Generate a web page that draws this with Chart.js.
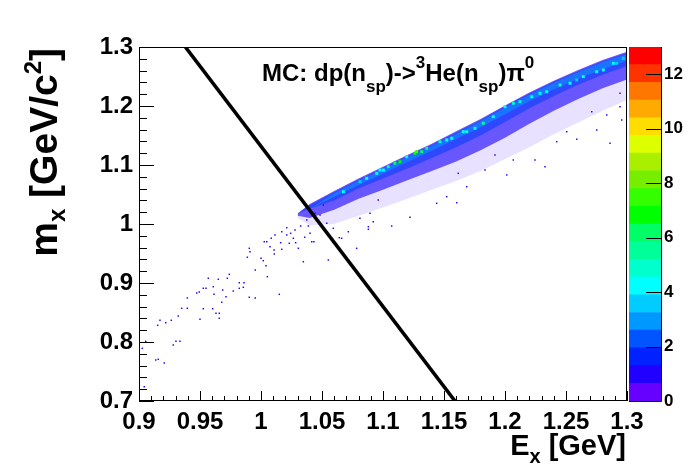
<!DOCTYPE html>
<html>
<head>
<meta charset="utf-8">
<script src="https://cdn.jsdelivr.net/npm/chart.js@4"></script>
<style>
  body { margin: 0; background: #fff; }
  #wrap { position: relative; width: 696px; height: 472px; }
  #main { position: absolute; left: 0; top: 0; }
  #cbar { position: absolute; left: 620px; top: 0; }
</style>
</head>
<body>
<div id="wrap">
  <canvas id="main" width="696" height="472"></canvas>
  <canvas id="cbar" width="76" height="472"></canvas>
</div>
<script>
// cut line drawn over the histogram
var lineE = [0.938, 1.159];
var lineM = [1.3, 0.7];

// outline of the dense band (E_x grid, m_x edges)
var bandE    = [1.03, 1.04, 1.06, 1.08, 1.10, 1.12, 1.14, 1.16, 1.18, 1.20, 1.22, 1.24, 1.26, 1.28, 1.30];
var bandTop  = [1.018, 1.034, 1.056, 1.077, 1.097, 1.117, 1.136, 1.157, 1.178, 1.201, 1.223, 1.243, 1.261, 1.278, 1.292];
var bandLow  = [1.014, 1.010, 1.024, 1.043, 1.058, 1.074, 1.090, 1.106, 1.125, 1.146, 1.170, 1.192, 1.212, 1.230, 1.245];
var haloLow  = [1.010, 0.998, 1.000, 1.014, 1.028, 1.043, 1.058, 1.073, 1.090, 1.110, 1.130, 1.152, 1.172, 1.192, 1.210];
var coreTop  = [1.018, 1.032, 1.054, 1.075, 1.095, 1.115, 1.134, 1.155, 1.176, 1.199, 1.221, 1.241, 1.259, 1.276, 1.290];
var coreLow  = [1.018, 1.026, 1.040, 1.060, 1.077, 1.094, 1.112, 1.130, 1.150, 1.173, 1.196, 1.217, 1.236, 1.253, 1.268];
var ridgeTop = [1.018, 1.026, 1.052, 1.073, 1.093, 1.113, 1.132, 1.153, 1.174, 1.197, 1.219, 1.239, 1.257, 1.274, 1.288];
var ridgeLow = [1.018, 1.026, 1.046, 1.066, 1.085, 1.105, 1.124, 1.144, 1.164, 1.186, 1.208, 1.228, 1.246, 1.262, 1.277];

// hot cells on the ridge
var hotE = [1.1262, 1.1276, 1.1098, 1.1139, 1.1043, 1.1358, 1.1467, 1.1522, 1.0975, 1.0866, 1.0675,
            1.1686, 1.1822, 1.2000, 1.2123, 1.2342, 1.2451, 1.2642, 1.2752, 1.2888, 1.2970,
            1.1003, 1.1194, 1.1317, 1.1563, 1.1658, 1.0948, 1.0811,
            1.1754, 1.1904, 1.2068, 1.2219, 1.2287, 1.2533, 1.2588, 1.2806, 1.2916];
var hotM = [1.1198, 1.1225, 1.1029, 1.1056, 1.0971, 1.1283, 1.1395, 1.1424, 1.0915, 1.0775, 1.0547,
            1.1564, 1.1707, 1.1988, 1.2073, 1.2242, 1.2356, 1.2497, 1.2581, 1.2724, 1.2808,
            1.0915, 1.1141, 1.1225, 1.1453, 1.1564, 1.0859, 1.0717,
            1.1622, 1.1819, 1.2046, 1.2157, 1.2215, 1.2385, 1.2441, 1.2610, 1.2724];
var hotV = [7, 7.5, 6, 6.5, 5.5, 6, 5, 4.5, 4.5, 4, 4,
            5, 5.5, 4.5, 5, 4.5, 5, 4, 4.5, 4, 3.5,
            4.5, 5, 6, 4.5, 4, 4, 3.5,
            4.5, 4, 5, 4, 4.5, 4, 3.5, 4, 3.5];

// single entries outside the band
var sparseE = [0.9055, 0.9027, 0.9043, 0.9137, 0.9158, 0.9207, 0.9153, 0.9172, 0.9219, 0.9265, 0.9281, 0.9303,
  0.9336, 0.9322, 0.9350, 0.9396, 0.9396, 0.9473, 0.9500, 0.9494, 0.9527, 0.9549, 0.9527, 0.9568, 0.9604, 0.9609,
  0.9615, 0.9631, 0.9658, 0.9658, 0.9650, 0.9678, 0.9686, 0.9713, 0.9724, 0.9740, 0.9773, 0.9822, 0.9822, 0.9861,
  0.9855, 0.9904, 0.9953, 0.9888, 0.9904, 0.9910, 0.9953, 1.0000, 1.0019, 1.0027, 1.0047, 1.0041, 1.0052, 1.0074,
  1.0084, 1.0107, 1.0115, 1.0109, 1.0150, 1.0170, 1.0161, 1.0170, 1.0211, 1.0211, 1.0232, 1.0243, 1.0265, 1.0279,
  1.0284, 1.0306, 1.0325, 1.0347, 1.0358, 1.0375, 1.0388, 1.0402, 1.0416, 1.0434, 1.0443, 1.0484, 1.0511, 1.0539,
  1.0552, 1.0593, 1.0642, 1.0784, 1.0811, 1.0880, 1.0893, 1.0961,
  1.1221, 1.1071, 1.1440, 1.1604, 1.1522, 1.0880, 1.0920, 1.0716, 1.0593, 1.0661, 1.1686, 1.1617,
  1.2588, 1.2424, 1.2506, 1.2711, 1.2752, 1.2834, 1.2943, 1.2957, 1.2328, 1.2246, 1.2068, 1.2014, 1.1918, 1.1836,
  1.2943, 1.2861];
var sparseM = [0.8012, 0.7893, 0.7242, 0.7695, 0.7707, 0.7644, 0.8283, 0.8368, 0.8327, 0.8368, 0.7949, 0.8012,
  0.8012, 0.8441, 0.8571, 0.8571, 0.8746, 0.8831, 0.8385, 0.8847, 0.8910, 0.8910, 0.8564, 0.9080, 0.8564, 0.8937,
  0.8808, 0.8486, 0.8486, 0.8402, 0.9063, 0.8673, 0.8881, 0.8768, 0.9080, 0.9147, 0.8864, 0.9005, 0.8910, 0.9005,
  0.8927, 0.8758, 0.8746, 0.9436, 0.9588, 0.9531, 0.9220, 0.9419, 0.9378, 0.9700, 0.9700, 0.9293, 0.9107, 0.9615,
  0.9758, 0.9559, 0.9814, 0.9492, 0.8808, 0.9571, 0.9683, 0.9869, 0.9814, 0.9937, 0.9673, 0.9842, 0.9758, 0.9898,
  0.9683, 0.9588, 0.9966, 0.9361, 0.9775, 1.0068, 0.9966, 0.9842, 0.9700, 0.9700, 1.0181, 1.0153, 1.0322, 1.0012,
  0.9390, 0.9700, 0.9768, 0.9588, 1.0097, 0.9954, 1.0181, 1.0407,
  1.0114, 0.9966, 1.0351, 1.0361, 1.0463, 0.9910, 1.0039, 0.9869, 0.9927, 0.9758, 1.0632, 1.0859,
  1.1436, 1.1395, 1.1564, 1.1903, 1.1593, 1.1847, 1.2215, 1.1763, 1.0971, 1.1085, 1.1085, 1.0831, 1.1169, 1.0915,
  1.1988, 1.1368];

// colour scale: 20 contour steps of 0.65 up to 13
var cbarSteps = [0.65, 0.65, 0.65, 0.65, 0.65, 0.65, 0.65, 0.65, 0.65, 0.65,
                 0.65, 0.65, 0.65, 0.65, 0.65, 0.65, 0.65, 0.65, 0.65, 0.65];
var palette = ['#6600ff', '#2200ff', '#0022ff', '#0055ff', '#0099ff', '#00ccff', '#00ffff', '#00ffcc', '#00ff99', '#00ff66',
               '#00ff00', '#33ff00', '#77ee00', '#aaee00', '#ddff00', '#ffdd00', '#ffaa00', '#ff7700', '#ff3300', '#ff0000'];

var FONT = '"Liberation Sans", Arial, Helvetica, sans-serif';
Chart.defaults.font.family = FONT;
Chart.defaults.color = '#000';

function colorFor(v) {
  var i = Math.floor(v / 0.65);
  if (i > 19) i = 19;
  return palette[i];
}

function pts(xs, ys) {
  return xs.map(function (x, i) { return { x: x, y: ys[i] }; });
}

// draws text with sub (1) and super (2) scripts
function richText(ctx, parts, x, y, size, small, subOff, supOff, align) {
  var w = 0;
  parts.forEach(function (p) {
    ctx.font = 'bold ' + (p[1] ? small : size) + 'px ' + FONT;
    w += ctx.measureText(p[0]).width;
  });
  var cx = align === 'right' ? x - w : x;
  ctx.textAlign = 'left';
  ctx.textBaseline = 'alphabetic';
  parts.forEach(function (p) {
    ctx.font = 'bold ' + (p[1] ? small : size) + 'px ' + FONT;
    var dy = p[1] === 1 ? subOff : (p[1] === 2 ? supOff : 0);
    ctx.fillText(p[0], cx, y + dy);
    cx += ctx.measureText(p[0]).width;
  });
}

var rootFrame = {
  id: 'rootFrame',
  afterDraw: function (chart) {
    var ctx = chart.ctx, a = chart.chartArea, sx = chart.scales.x, sy = chart.scales.y;
    ctx.save();
    ctx.strokeStyle = '#000';
    ctx.lineWidth = 1;
    ctx.strokeRect(Math.round(a.left) + 0.5, Math.round(a.top) + 0.5,
                   Math.round(a.right - a.left) - 1, Math.round(a.bottom - a.top) - 1);
    ctx.beginPath();
    for (var k = 0; k <= 40; k++) {
      var px = Math.round(sx.getPixelForValue(0.9 + k * 0.01)) + 0.5;
      var len = k % 5 === 0 ? 10 : 5;
      ctx.moveTo(px, a.bottom);
      ctx.lineTo(px, a.bottom - len);
    }
    for (var j = 0; j <= 30; j++) {
      var py = Math.round(sy.getPixelForValue(0.7 + j * 0.02)) + 0.5;
      var ln = j % 5 === 0 ? 15 : 8;
      ctx.moveTo(a.left, py);
      ctx.lineTo(a.left + ln, py);
    }
    ctx.stroke();

    ctx.fillStyle = '#000';
    richText(ctx, [['MC: dp(n', 0], ['sp', 1], [')->', 0], ['3', 2], ['He(n', 0], ['sp', 1], [')\u03c0', 0], ['0', 2]],
             262, 81, 24, 17, 11, -13, 'left');
    richText(ctx, [['E', 0], ['x', 1], [' [GeV]', 0]], 626, 455, 29, 20, 8, -12, 'right');
    ctx.translate(57, 48);
    ctx.rotate(-Math.PI / 2);
    richText(ctx, [['m', 0], ['x', 1], [' [GeV/c', 0], ['2', 2], [']', 0]], 0, 0, 39, 24, 8, -16, 'right');
    ctx.restore();
  }
};

var datasets = [];
datasets.push({ type: 'line', data: pts(lineE, lineM), borderColor: '#000', borderWidth: 3.6,
                pointRadius: 0, fill: false });
datasets.push({ type: 'scatter', data: pts(hotE, hotM), pointStyle: 'rect', pointRadius: 2.1,
                pointBackgroundColor: hotV.map(colorFor), pointBorderWidth: 0 });
datasets.push({ type: 'scatter', data: pts(sparseE, sparseM), pointStyle: 'rect', pointRadius: 1.05,
                pointBackgroundColor: '#2a00ff', pointBorderWidth: 0 });

function addBand(top, low, color) {
  datasets.push({ type: 'line', data: pts(bandE, top), borderColor: 'transparent', pointRadius: 0,
                  tension: 0, fill: '+1', backgroundColor: color });
  datasets.push({ type: 'line', data: pts(bandE, low), borderColor: 'transparent', pointRadius: 0,
                  tension: 0, fill: false });
}
addBand(ridgeTop, ridgeLow, 'rgba(0,170,255,0.45)');
addBand(coreTop, coreLow, 'rgba(0,60,255,0.55)');
addBand(bandTop, bandLow, 'rgba(55,35,255,0.72)');
addBand(bandTop, haloLow, 'rgba(90,40,255,0.14)');

function tickFmt(v) { return String(Number(v.toFixed(2))); }

new Chart(document.getElementById('main'), {
  type: 'scatter',
  data: { datasets: datasets },
  options: {
    responsive: false,
    animation: false,
    events: [],
    layout: { padding: { left: 0, right: 69, top: 47, bottom: 0 } },
    plugins: { legend: { display: false }, tooltip: { enabled: false } },
    scales: {
      x: {
        type: 'linear', min: 0.9, max: 1.3,
        grid: { display: false, drawTicks: false },
        border: { display: false },
        ticks: { stepSize: 0.05, autoSkip: false, maxRotation: 0, padding: 7,
                 font: { size: 24, weight: 'bold' }, color: '#000', callback: tickFmt },
        afterFit: function (s) { s.height = 71; }
      },
      y: {
        type: 'linear', min: 0.7, max: 1.3,
        grid: { display: false, drawTicks: false },
        border: { display: false },
        ticks: { stepSize: 0.1, autoSkip: false, padding: 6,
                 font: { size: 24, weight: 'bold' }, color: '#000', callback: tickFmt },
        afterFit: function (s) { s.width = 139; }
      }
    }
  },
  plugins: [rootFrame]
});

var cbarAxis = {
  id: 'cbarAxis',
  afterDraw: function (chart) {
    var ctx = chart.ctx, a = chart.chartArea, sy = chart.scales.y;
    ctx.save();
    ctx.strokeStyle = '#000';
    ctx.lineWidth = 1;
    ctx.beginPath();
    ctx.moveTo(Math.round(a.right) + 0.5, a.top);
    ctx.lineTo(Math.round(a.right) + 0.5, a.bottom + 0.5);
    ctx.lineTo(a.left, a.bottom + 0.5);
    for (var v = 0; v <= 12; v += 2) {
      var py = Math.round(sy.getPixelForValue(v)) + 0.5;
      ctx.moveTo(a.right, py);
      ctx.lineTo(a.right - 15, py);
    }
    ctx.stroke();
    ctx.restore();
  }
};

new Chart(document.getElementById('cbar'), {
  type: 'bar',
  data: {
    labels: [''],
    datasets: palette.map(function (c, i) {
      return { data: [cbarSteps[i]], backgroundColor: c, borderWidth: 0,
               barPercentage: 1, categoryPercentage: 1 };
    })
  },
  options: {
    responsive: false,
    animation: false,
    events: [],
    layout: { padding: { left: 9, right: 0, top: 47, bottom: 71 } },
    plugins: { legend: { display: false }, tooltip: { enabled: false } },
    scales: {
      x: { display: false, stacked: true },
      y: {
        stacked: true, position: 'right', min: 0, max: 13,
        grid: { display: false, drawTicks: false },
        border: { display: false },
        ticks: { stepSize: 2, includeBounds: false, padding: 3,
                 font: { size: 17, weight: 'bold' }, color: '#000' },
        afterFit: function (s) { s.width = 35; }
      }
    }
  },
  plugins: [cbarAxis]
});
</script>
</body>
</html>
